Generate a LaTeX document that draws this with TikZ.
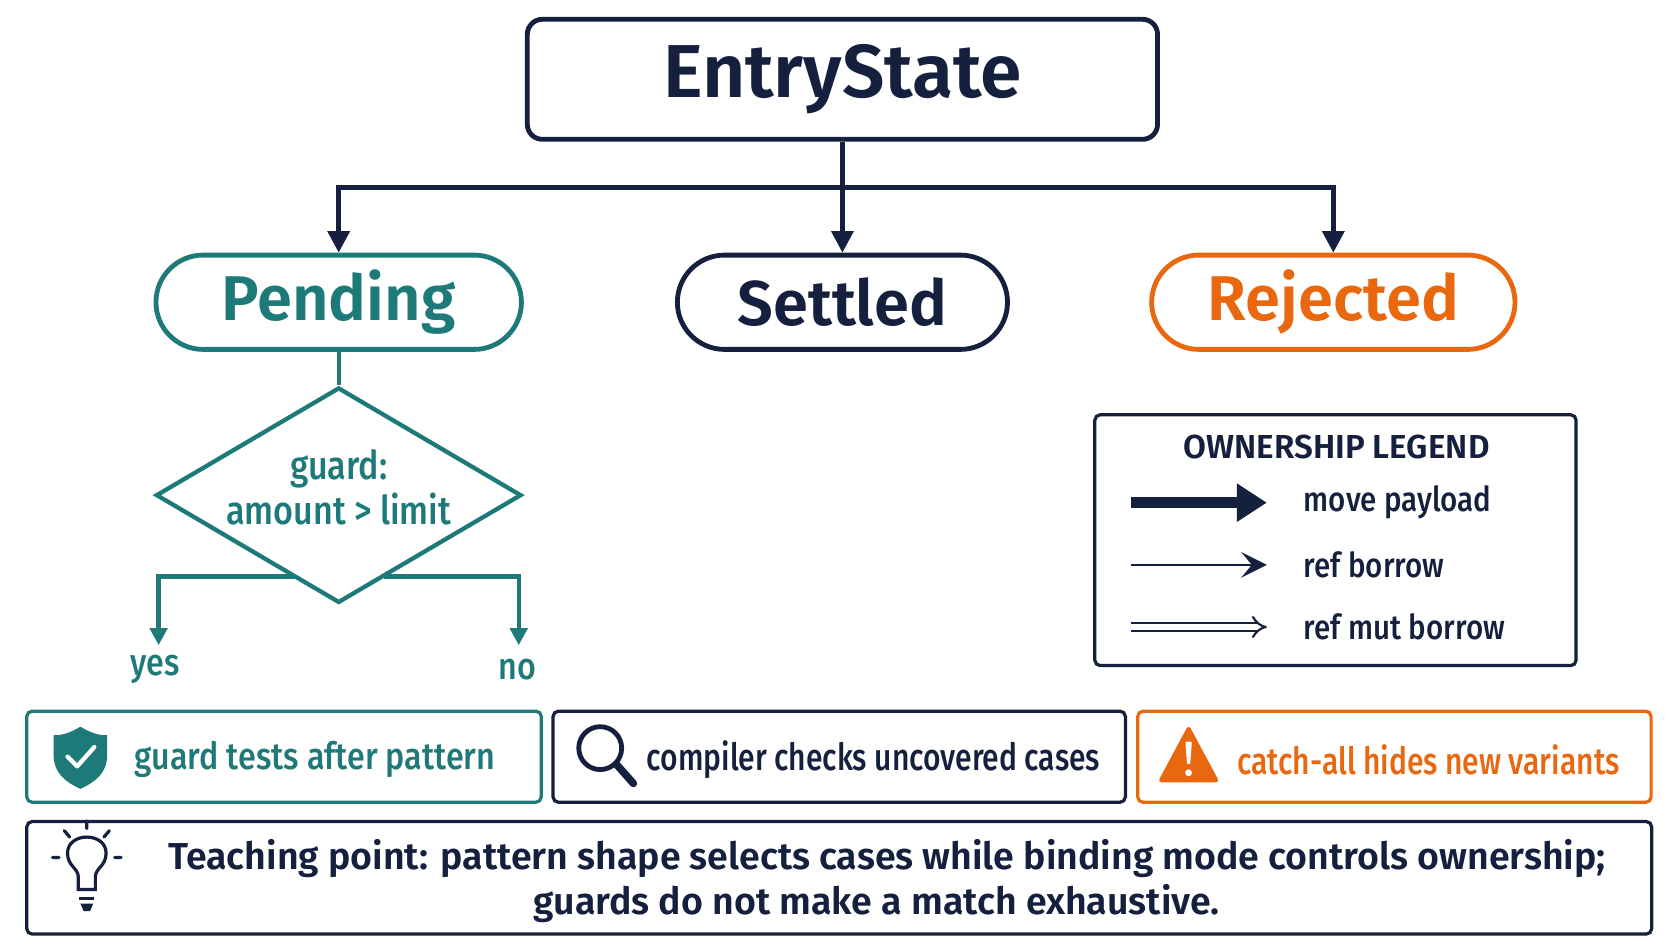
\documentclass[tikz,border=0pt]{standalone}
\usepackage{fontspec}
\setmainfont{Fira Sans}[BoldFont={Fira Sans SemiBold}]
\newfontfamily\cond{Fira Sans}[FakeStretch=0.86,BoldFont={Fira Sans Medium},BoldFeatures={FakeStretch=0.86}]
\newfontfamily\condb{Fira Sans}[FakeStretch=0.80,BoldFont={Fira Sans Medium},BoldFeatures={FakeStretch=0.80}]
\usetikzlibrary{arrows.meta,shapes.geometric}
\definecolor{navy}{HTML}{14203D}
\definecolor{teal}{HTML}{1D7A78}
\definecolor{orng}{HTML}{E8670F}
\tikzset{
 box/.style={draw=navy,line width=4.5pt,rounded corners=14pt},
 pill/.style={line width=4.5pt,rounded corners=44pt,minimum height=88pt,font=\fontsize{59}{62}\selectfont\bfseries},
 card/.style={line width=3pt,rounded corners=5pt,minimum height=85pt},
 conn/.style={draw=navy,line width=4.5pt,-{Triangle[length=20pt,width=20pt]}},
 tconn/.style={draw=teal,line width=4pt,-{Triangle[length=16pt,width=16pt]}},
 lbl/.style={font=\cond\bfseries\fontsize{35}{38}\selectfont},
 lblb/.style={font=\condb\bfseries\fontsize{35}{38}\selectfont}
}
\begin{document}
\begin{tikzpicture}[x=1pt,y=-1pt]
\useasboundingbox[fill=white] (0,0) rectangle (1560,878);
\node[box,minimum width=588pt,minimum height=112pt,font=\fontsize{70}{74}\selectfont\bfseries,text=navy] (entry) at (786,74) {EntryState};
\node[pill,draw=teal,text=teal,minimum width=341pt] (pend) at (316,282) {Pending};
\node[pill,draw=navy,text=navy,minimum width=308pt] (sett) at (786,282) {Settled};
\node[pill,draw=orng,text=orng,minimum width=339pt] (rej) at (1244,282) {Rejected};
\coordinate (j) at (786,175);
\draw[navy,line width=4.5pt] (entry.south) -- (j);
\draw[conn] (j) -- (sett.north);
\draw[conn] (j) -| (pend.north);
\draw[conn] (j) -| (rej.north);
\node[diamond,draw=teal,line width=4pt,minimum width=341pt,minimum height=201pt,inner sep=0pt] (dia) at (316,462) {};
\node[text=teal,align=center,font=\cond\bfseries\fontsize{37}{42}\selectfont] at (316,455) {guard:\\amount > limit};
\draw[teal,line width=4pt] (pend.south) -- (dia.north);
\node[lbl,text=teal] (yes) at (145,625) {yes};
\node[lbl,text=teal] (no) at (483,625) {no};
\coordinate (dl) at (274,538); \coordinate (dr) at (358,538);
\coordinate (ye) at (148,602); \coordinate (ne) at (484,602);
\draw[tconn] (dl) -| (ye);
\draw[tconn] (dr) -| (ne);
% legend
\node[draw=navy,line width=3pt,rounded corners=5pt,minimum width=449pt,minimum height=234pt] (leg) at (1246,504) {};
\node[font=\bfseries\fontsize{31}{33}\selectfont,text=navy] (lt) at (1247,417) {OWNERSHIP LEGEND};
\coordinate (a1) at (1055,469); \coordinate (b1) at (1182,469);
\coordinate (a2) at (1055,527); \coordinate (b2) at (1182,527);
\coordinate (a3) at (1055,585); \coordinate (b3) at (1182,585);
\draw[navy,line width=10pt,-{Triangle[length=28pt,width=34pt]}] (a1) -- (b1);
\draw[navy,line width=2pt,-{Stealth[length=24pt,width=24pt,inset=10pt]}] (a2) -- (b2);
\draw[navy,line width=2pt,double distance=5pt,-{Implies[length=16pt]}] (a3) -- (b3);
\node[text=navy,anchor=west,font=\cond\bfseries\fontsize{32}{34}\selectfont] at (1213,469) {move payload};
\node[text=navy,anchor=west,font=\cond\bfseries\fontsize{32}{34}\selectfont] at (1213,527) {ref borrow};
\node[text=navy,anchor=west,font=\cond\bfseries\fontsize{32}{34}\selectfont] at (1213,585) {ref mut borrow};
% cards
\node[card,draw=teal,minimum width=480pt] (c1) at (265,706) {};
\node[card,draw=navy,minimum width=534pt] (c2) at (783,706) {};
\node[card,draw=orng,minimum width=479pt] (c3) at (1301,706) {};
\node[lbl,text=teal,anchor=west] at (122,709) {guard tests after pattern};
\node[lblb,text=navy,anchor=west] at (600,709) {compiler checks uncovered cases};
\node[lblb,text=orng,anchor=west] at (1151,709) {catch-all hides new variants};
% shield
\fill[teal] (75,678) .. controls (88,686) and (96,686) .. (100,686) -- (100,704) .. controls (100,722) and (88,730) .. (75,736) .. controls (62,730) and (50,722) .. (50,704) -- (50,686) .. controls (54,686) and (62,686) .. (75,678) -- cycle;
\draw[white,line width=4pt,line cap=round,line join=round] (63,706) -- (72,715) -- (88,697);
% magnifier
\draw[navy,line width=4.5pt] (560,698) circle (20pt);
\draw[navy,line width=7pt,line cap=round] (575,713) -- (591,731);
% warning
\fill[orng,rounded corners=4pt] (1109,676) -- (1138,730) -- (1080,730) -- cycle;
\fill[white,rounded corners=1pt] (1106,692) -- (1112,692) -- (1110.5,713) -- (1107.5,713) -- cycle;
\fill[white] (1109,721) circle (3.2pt);
% bottom
\node[draw=navy,line width=3pt,rounded corners=5pt,minimum width=1516pt,minimum height=105pt] (tp) at (783,819) {};
\node[text=navy,align=center,font=\bfseries\fontsize{35}{42}\selectfont] at (818,822) {\hspace*{19pt}Teaching point: pattern shape selects cases while binding mode controls ownership;\\guards do not make a match exhaustive.};
% bulb
\draw[navy,line width=3pt] (73,830) -- (73,818) .. controls (73,810) and (63,808) .. (63,796) .. controls (63,776) and (99,776) .. (99,796) .. controls (99,808) and (89,810) .. (89,818) -- (89,830) -- cycle;
\draw[navy,line width=3pt] (74,838) -- (88,838);
\fill[navy] (75,843) -- (87,843) -- (84,850) -- (78,850) -- cycle;
\draw[navy,line width=3pt,line cap=round] (81,766) -- (81,773) (60,775) -- (65,781) (102,775) -- (97,781) (49,800) -- (55,800) (107,800) -- (113,800);
\end{tikzpicture}
\end{document}
